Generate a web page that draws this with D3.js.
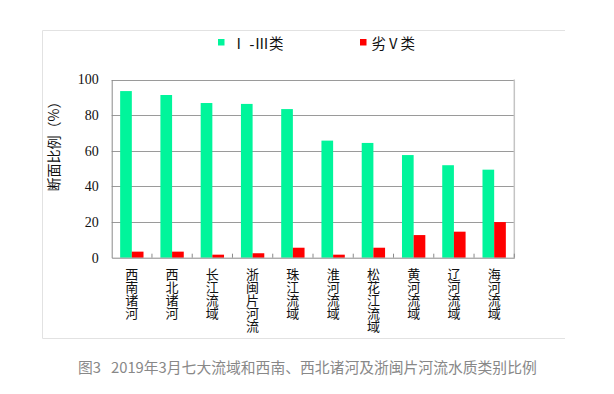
<!DOCTYPE html>
<html>
<head>
<meta charset="utf-8">
<script src="https://cdn.jsdelivr.net/npm/d3@7/dist/d3.min.js"></script>
<style>
  html, body { margin: 0; padding: 0; background: #fff; }
  svg { display: block; }
</style>
</head>
<body>
<svg id="chart" width="614" height="394"></svg>
<script>
const categories = ["西南诸河", "西北诸河", "长江流域", "浙闽片河流", "珠江流域", "淮河流域", "松花江流域", "黄河流域", "辽河流域", "海河流域"];
const seriesNames = ["Ⅰ -Ⅲ类", "劣Ⅴ类"];
const goodValues = [93.5, 91.3, 86.8, 86.3, 83.4, 65.7, 64.4, 57.6, 51.9, 49.4];
const badValues = [3.4, 3.4, 1.7, 2.5, 5.6, 1.7, 5.6, 12.7, 14.6, 20.0];
const yTicks = [0, 20, 40, 60, 80, 100];
const colors = ["#00f59b", "#ff0000"];
const yTitle = "断面比例（%）";
const caption = "图3\u00a0\u00a0 2019年3月七大流域和西南、西北诸河及浙闽片河流水质类别比例";

const svg = d3.select("#chart");
const plot = { left: 111.7, right: 514.3, top: 79.5, bottom: 257.7 };

// outer frame (left, top, bottom)
svg.append("path")
  .attr("d", `M565,30.5 H42.5 V338.5 H565`)
  .attr("fill", "none").attr("stroke", "#e2e2e2").attr("stroke-width", 1);

const x = d3.scaleBand().domain(categories).range([plot.left, plot.right]).padding(0);
const y = d3.scaleLinear().domain([0, 100]).range([plot.bottom, plot.top]);
const bw = x.bandwidth() * 0.29;

// grid lines
svg.append("g").selectAll("line").data(yTicks.filter(d => d > 0)).join("line")
  .attr("x1", plot.left).attr("x2", plot.right)
  .attr("y1", d => Math.round(y(d)) + 0.5).attr("y2", d => Math.round(y(d)) + 0.5)
  .attr("stroke", "#9a9a9a").attr("stroke-width", 1);

// right border of plot
svg.append("line")
  .attr("x1", plot.right).attr("x2", plot.right)
  .attr("y1", plot.top).attr("y2", plot.bottom)
  .attr("stroke", "#c4c4c4").attr("stroke-width", 1.5);

// bars
const groups = [goodValues, badValues];
groups.forEach((vals, si) => {
  svg.append("g").selectAll("rect").data(vals).join("rect")
    .attr("x", (d, i) => x(categories[i]) + x.bandwidth() / 2 - bw + si * bw)
    .attr("width", bw)
    .attr("y", d => y(d))
    .attr("height", d => y(0) - y(d))
    .attr("fill", colors[si]);
});

// y axis
const yAxis = d3.axisLeft(y).tickValues(yTicks).tickSize(0).tickPadding(13);
const gy = svg.append("g").attr("transform", `translate(${plot.left},0)`).call(yAxis);
gy.select(".domain").attr("stroke", "#8a8a8a");
gy.selectAll("text")
  .attr("font-family", "'Liberation Serif', 'Times New Roman', serif")
  .attr("font-size", 14).attr("fill", "#111");

// x axis
const xAxis = d3.axisBottom(x).tickSize(0).tickFormat("");
const gx = svg.append("g").attr("transform", `translate(0,${plot.bottom})`).call(xAxis);
gx.select(".domain").attr("stroke", "#8a8a8a");
// inner tick marks at band boundaries
const bounds = categories.map(c => x(c)).concat([plot.right]);
svg.append("g").selectAll("line").data(bounds.slice(1)).join("line")
  .attr("x1", d => d).attr("x2", d => d)
  .attr("y1", plot.bottom).attr("y2", plot.bottom - 4)
  .attr("stroke", "#8a8a8a");

// category labels (vertical text)
svg.append("g").selectAll("text").data(categories).join("text")
  .attr("x", c => x(c) + x.bandwidth() / 2)
  .attr("y", 267.5)
  .style("writing-mode", "vertical-rl")
  .style("text-orientation", "upright")
  .attr("font-family", "'Noto Sans CJK SC', sans-serif")
  .attr("font-size", 13).attr("fill", "#111")
  .text(c => c);

// y title
svg.append("text")
  .attr("transform", `translate(59,143) rotate(-90)`)
  .attr("text-anchor", "middle")
  .attr("font-family", "'Noto Sans CJK SC', sans-serif")
  .attr("font-size", 14).attr("fill", "#111")
  .text(yTitle);

// legend
const legendPos = [{ sx: 218, tx: 231.5 }, { sx: 360, tx: 371.5 }];
seriesNames.forEach((n, i) => {
  svg.append("rect").attr("x", legendPos[i].sx).attr("y", 39).attr("width", 6.5).attr("height", 6.5).attr("fill", colors[i]);
  svg.append("text").attr("x", legendPos[i].tx).attr("y", 48.5)
    .attr("font-family", "'Liberation Serif', 'Noto Sans CJK SC', serif")
    .attr("font-size", 14.5).attr("fill", "#111")
    .text(n);
});

// caption
svg.append("text").attr("x", 78).attr("y", 372.5)
  .attr("font-family", "'Noto Sans CJK SC', sans-serif")
  .attr("font-size", 14.8).attr("fill", "#888")
  .text(caption);
</script>
</body>
</html>
